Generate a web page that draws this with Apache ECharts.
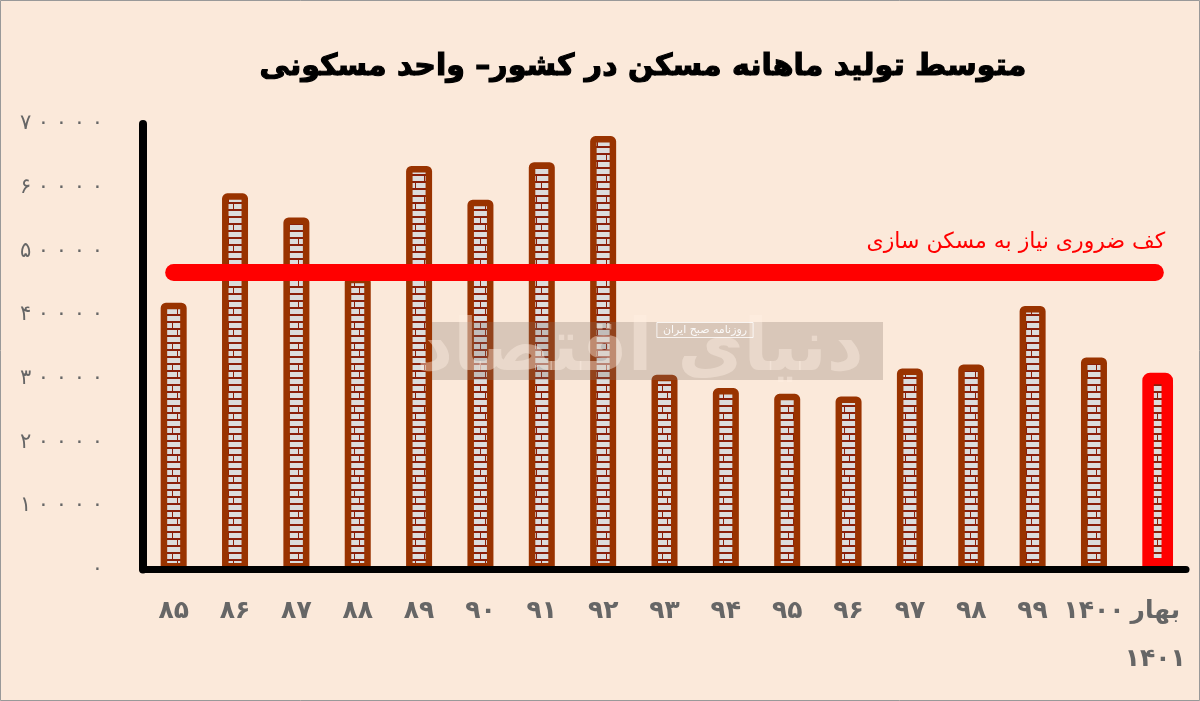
<!DOCTYPE html>
<html><head><meta charset="utf-8">
<script src="https://cdn.jsdelivr.net/npm/echarts@6/dist/echarts.min.js"></script>
<style>html,body{margin:0;padding:0;background:#fbe9da}#c{width:1200px;height:701px}</style>
</head><body><div id="c"></div>
<script>
const chartTitle = 'متوسط تولید ماهانه مسکن در کشور– واحد مسکونی';
const categories = ['۸۵','۸۶','۸۷','۸۸','۸۹','۹۰','۹۱','۹۲','۹۳','۹۴','۹۵','۹۶','۹۷','۹۸','۹۹','۱۴۰۰','بهار\n۱۴۰۱'];
const values = [41900, 59100, 55300, 46000, 63400, 58100, 64000, 68100, 30600, 28500, 27600, 27200, 31600, 32200, 41400, 33300, 30900];
const thresholdValue = 46700;
const thresholdLabel = 'کف ضروری نیاز به مسکن سازی';
const yTickLabels = ['۰','۱۰۰۰۰','۲۰۰۰۰','۳۰۰۰۰','۴۰۰۰۰','۵۰۰۰۰','۶۰۰۰۰','۷۰۰۰۰'];
const highlightIndex = 16;
const watermarkName = 'دنیای اقتصاد';
const watermarkSub = 'روزنامه صبح ایران';

function brickPattern(){
  const c = document.createElement('canvas'); c.width = 14; c.height = 21;
  const g = c.getContext('2d');
  g.fillStyle = '#8a1f0a'; g.fillRect(0,0,14,21);
  g.fillStyle = '#dcdcdc';
  g.fillRect(0,1,14,5);
  g.fillRect(0,8,4,5); g.fillRect(5,8,9,5);
  g.fillRect(0,15,9,5); g.fillRect(10,15,4,5);
  return c;
}
const pat = brickPattern();

const chart = echarts.init(document.getElementById('c'));
const font = 'DejaVu Sans';
chart.setOption({
  backgroundColor: '#fbe9da',
  animation: false,
  title: {
    text: chartTitle, left: 638, top: 47, textAlign: 'center',
    textStyle: {fontSize: 30, fontWeight: 'bold', color: '#000', fontFamily: font,
      textBorderColor: '#000', textBorderWidth: 1.2}
  },
  grid: {left: 143, right: 14, top: 124, bottom: 131.5, containLabel: false},
  xAxis: {
    type: 'category', data: categories, z: 10,
    axisLine: {lineStyle: {color: '#000', width: 7}},
    axisTick: {show: false},
    axisLabel: {margin: 18, color: '#666', fontSize: 25, fontWeight: 'bold', fontFamily: font, lineHeight: 48, interval: 0}
  },
  yAxis: {
    type: 'value', min: 0, max: 70000, interval: 10000, z: 10,
    axisLine: {show: true, lineStyle: {color: '#000', width: 8}},
    axisTick: {show: false},
    splitLine: {show: false},
    axisLabel: {
      margin: 40, color: '#666', fontSize: 21, fontFamily: font,
      formatter: v => yTickLabels[Math.round(v / 10000)].split('').join(' ')
    }
  },
  series: [{
    type: 'bar', barWidth: 30.7, barGap: '-100%',
    itemStyle: {color: {image: pat, repeat: 'repeat'}, borderColor: '#ff0000', borderWidth: 11.5, borderRadius: [2,2,0,0]},
    data: values.map((v, i) => i === highlightIndex ? v : '-')
  }, {
    type: 'bar', barWidth: 26, barGap: '-100%',
    itemStyle: {color: {image: pat, repeat: 'repeat'}, borderColor: '#993300', borderWidth: 6.5, borderRadius: [2,2,0,0]},
    data: values.map((v, i) => i === highlightIndex ? '-' : v),
    markLine: {
      silent: true, symbol: 'none', z: 5,
      lineStyle: {color: '#ff0000', width: 17, type: 'solid', cap: 'round'},
      label: {show: true, position: 'insideEndTop', distance: [-10, 19], formatter: thresholdLabel,
        color: '#ff0000', fontSize: 22, fontFamily: font},
      data: [[{xAxis: 0, yAxis: thresholdValue}, {xAxis: categories.length - 1, yAxis: thresholdValue}]]
    }
  }],
  graphic: [
    {type: 'rect', z: 50, shape: {x: 432, y: 322, width: 451, height: 58},
     style: {fill: 'rgba(130,110,100,0.28)'}},
    {type: 'text', z: 51, x: 640, y: 351, style: {text: watermarkName, font: 'bold 72px "DejaVu Sans"',
      fill: 'rgba(255,240,228,0.42)', align: 'center', verticalAlign: 'middle'}},
    {type: 'text', z: 52, x: 705, y: 330, style: {text: watermarkSub, font: '11px "DejaVu Sans"',
      fill: 'rgba(255,255,255,0.9)', align: 'center', verticalAlign: 'middle',
      borderColor: 'rgba(255,255,255,0.8)', borderWidth: 1, padding: [2,6]}},
    {type: 'rect', z: 60, shape: {x: 0.5, y: 0.5, width: 1199, height: 700},
     style: {fill: 'none', stroke: '#999', lineWidth: 1}}
  ]
});
</script></body></html>
